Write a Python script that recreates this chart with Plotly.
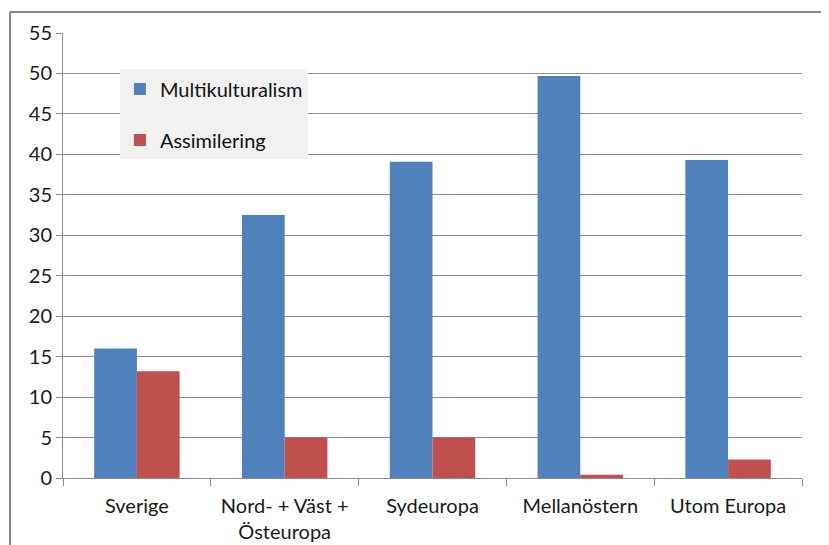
import plotly.graph_objects as go

# Data
categories = ['Sverige', 'Nord- + Väst +<br>Östeuropa', 'Sydeuropa', 'Mellanöstern', 'Utom Europa']
multikulturalism = [16.0, 32.5, 39.1, 49.7, 39.3]
assimilering = [13.2, 5.0, 5.0, 0.4, 2.3]
y_ticks = list(range(0, 60, 5))

FONT = 'Lato, Open Sans, sans-serif'
GRID = '#8c8c8c'

fig = go.Figure()

fig.add_trace(go.Bar(
    x=categories,
    y=multikulturalism,
    name='Multikulturalism',
    legendgroup='m',
    marker=dict(color='#4F81BD', line=dict(width=0))
))

fig.add_trace(go.Bar(
    x=categories,
    y=assimilering,
    name='Assimilering',
    legendgroup='a',
    marker=dict(color='#C0504D', line=dict(width=0))
))

# Outer chart frame (left and top edges visible in the crop)
fig.add_shape(type='line', xref='paper', yref='paper',
              x0=-0.0717, x1=-0.0717, y0=-0.3, y1=1.047,
              line=dict(color='#868686', width=2))
fig.add_shape(type='line', xref='paper', yref='paper',
              x0=-0.0717, x1=1.2, y0=1.047, y1=1.047,
              line=dict(color='#868686', width=2))

# page body has an 8px default margin, so the figure is shrunk by that much
fig.update_layout(
    width=821,
    height=537,
    margin=dict(l=55, r=27, t=25, b=67),
    paper_bgcolor='white',
    plot_bgcolor='white',
    barmode='group',
    bargap=0.422,
    bargroupgap=0,
    font=dict(family=FONT, size=20, color='#1a1a1a'),
    showlegend=True,
    legend=dict(
        x=0.077, y=0.918, xanchor='left', yanchor='top',
        bgcolor='#f2f2f2',
        font=dict(family=FONT, size=20, color='#111111'),
        itemwidth=30,
        tracegroupgap=22,
        traceorder='grouped',
    ),
    xaxis=dict(
        showgrid=False,
        showline=True,
        linecolor=GRID,
        linewidth=1,
        ticks='outside',
        tickson='boundaries',
        ticklen=7,
        tickcolor=GRID,
        ticklabelstandoff=10,
        automargin=False,
        tickfont=dict(family=FONT, size=20, color='#1a1a1a'),
    ),
    yaxis=dict(
        range=[0, 55],
        tickvals=y_ticks,
        showgrid=True,
        gridcolor=GRID,
        gridwidth=1,
        showline=True,
        linecolor=GRID,
        linewidth=1,
        ticks='outside',
        ticklen=6,
        tickcolor=GRID,
        zeroline=False,
        automargin=False,
        tickfont=dict(family=FONT, size=20, color='#1a1a1a'),
    ),
)

fig.write_html('out.html')
